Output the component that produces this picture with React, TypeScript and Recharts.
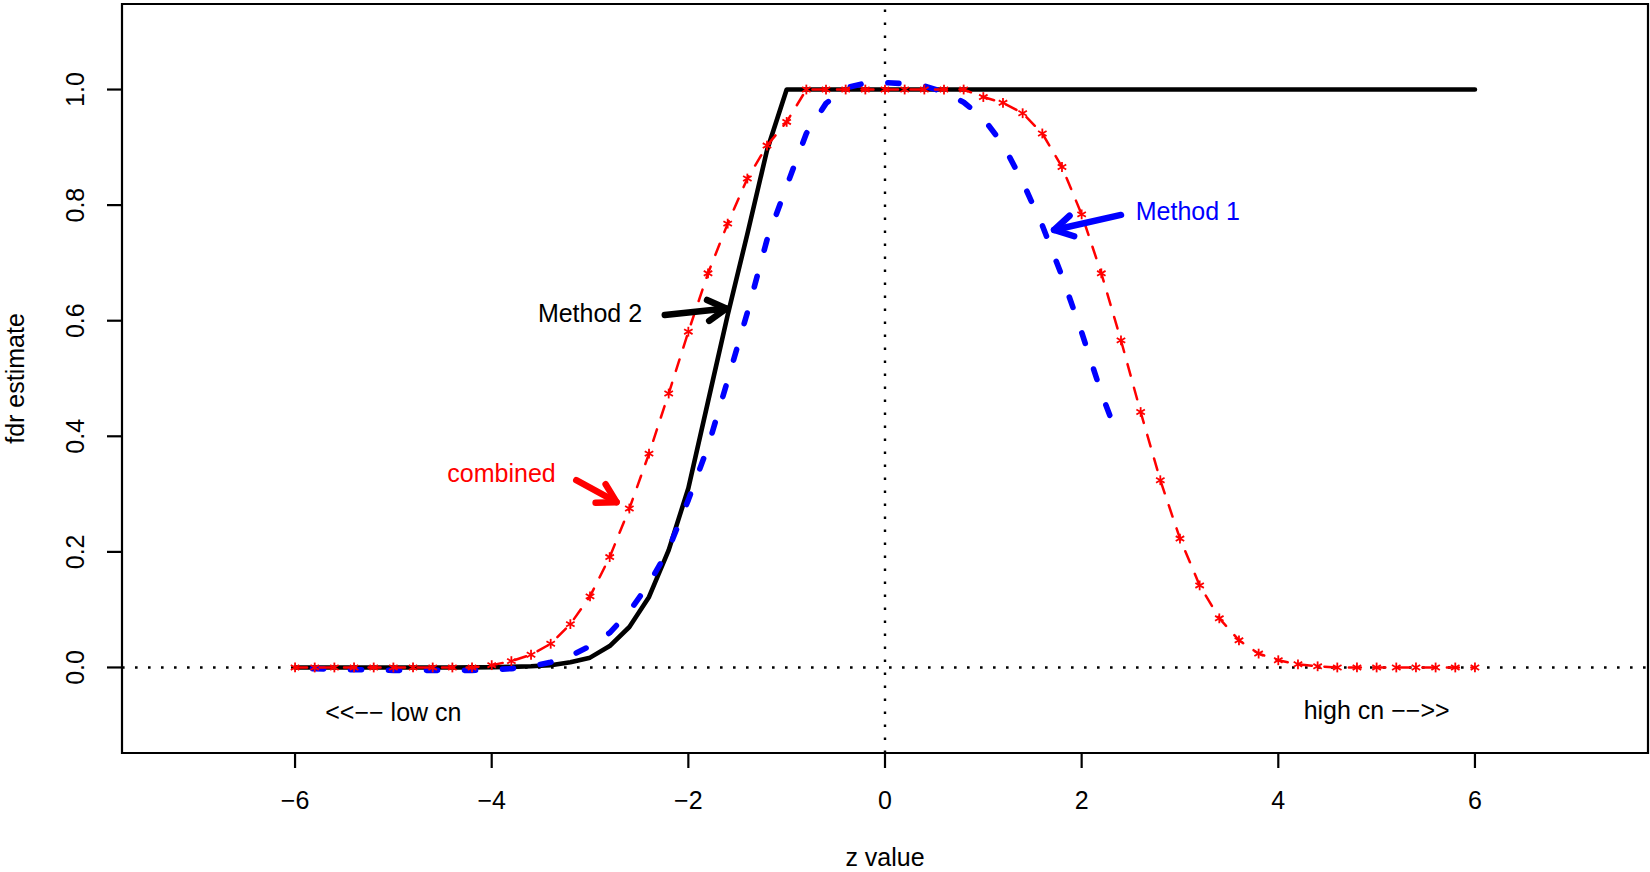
import React from 'react';
import {
  LineChart,
  Line,
  XAxis,
  YAxis,
  ReferenceLine,
  ReferenceArea,
  ReferenceDot,
  Label,
} from 'recharts';

// ---------- data ----------
const zGrid = [
  -6.0, -5.8, -5.6, -5.4, -5.2, -5.0, -4.8, -4.6, -4.4, -4.2,
  -4.0, -3.8, -3.6, -3.4, -3.2, -3.0, -2.8, -2.6, -2.4, -2.2,
  -2.0, -1.8, -1.6, -1.4, -1.2, -1.0, -0.8, -0.6, -0.4, -0.2,
  0.0, 0.2, 0.4, 0.6, 0.8, 1.0, 1.2, 1.4, 1.6, 1.8,
  2.0, 2.2, 2.4, 2.6, 2.8, 3.0, 3.2, 3.4, 3.6, 3.8,
  4.0, 4.2, 4.4, 4.6, 4.8, 5.0, 5.2, 5.4, 5.6, 5.8, 6.0,
];

const method2Fdr = [
  0, 0, 0, 0, 0, 0, 0, 0, 0, 0.0002,
  0.0005, 0.001, 0.002, 0.004, 0.009, 0.017, 0.037, 0.07, 0.122, 0.203,
  0.31, 0.46, 0.61, 0.75, 0.895, 1, 1, 1, 1, 1,
  1, 1, 1, 1, 1, 1, 1, 1, 1, 1,
  1, 1, 1, 1, 1, 1, 1, 1, 1, 1,
  1, 1, 1, 1, 1, 1, 1, 1, 1, 1, 1,
];

const combinedFdr = [
  0, 0, 0, 0, 0, 0, 0, 0, 0, 0,
  0.004, 0.011, 0.022, 0.041, 0.075, 0.123, 0.191, 0.275, 0.37, 0.474,
  0.581, 0.682, 0.768, 0.846, 0.903, 0.944, 1, 1, 1, 1,
  1, 1, 1, 1, 1, 0.987, 0.977, 0.959, 0.924, 0.866,
  0.784, 0.682, 0.566, 0.442, 0.324, 0.223, 0.142, 0.085, 0.047, 0.024,
  0.0125, 0.0055, 0.002, 0, 0, 0, 0, 0, 0, 0, 0,
];

const method1Z = [
  -6.0, -5.8, -5.6, -5.4, -5.2, -5.0, -4.8, -4.6, -4.4, -4.2,
  -4.0, -3.8, -3.6, -3.4, -3.2, -3.0, -2.8, -2.6, -2.4, -2.2,
  -2.0, -1.8, -1.6, -1.4, -1.2, -1.0, -0.8, -0.6, -0.4, -0.2,
  0.0, 0.2, 0.4, 0.6, 0.8, 1.0, 1.2, 1.4, 1.6, 1.8,
  2.0, 2.2, 2.3,
];
const method1Fdr = [
  -0.002, -0.002, -0.003, -0.004, -0.004, -0.005, -0.005, -0.005, -0.005, -0.005,
  -0.004, -0.002, 0.002, 0.009, 0.02, 0.037, 0.06, 0.097, 0.145, 0.205,
  0.29, 0.382, 0.497, 0.614, 0.74, 0.833, 0.924, 0.976, 1.003, 1.011,
  1.012, 1.01, 1.006, 0.996, 0.978, 0.95, 0.905, 0.84, 0.765, 0.677,
  0.58, 0.475, 0.43,
];

const xTicks = [-6, -4, -2, 0, 2, 4, 6];
const yTicks = [0, 0.2, 0.4, 0.6, 0.8, 1.0];

const noteTexts = ['Method 2', 'Method 1', 'combined', '<<\u2212\u2212 low cn', 'high cn \u2212\u2212>>'];
const noteX = [-3.0, 3.08, -3.9, -5.0, 5.0];
const noteY = [0.6125, 0.79, 0.336, -0.077, -0.074];
const noteColors = ['#000000', '#0000FF', '#FF0000', '#000000', '#000000'];

const arrowFromX = [-2.24, 2.4, -3.14];
const arrowFromY = [0.61, 0.783, 0.324];
const arrowToX = [-1.615, 1.72, -2.73];
const arrowToY = [0.621, 0.757, 0.286];
const arrowColors = ['#000000', '#0000FF', '#FF0000'];

// ---------- derived rows ----------
const method2Rows = zGrid.map((z, i) => ({ z, v: method2Fdr[i] }));
const combinedRows = zGrid.map((z, i) => ({ z, v: combinedFdr[i] }));
const method1Rows = method1Z.map((z, i) => ({ z, v: method1Fdr[i] }));

const FONT = '"Liberation Sans", Arial, Helvetica, sans-serif';
const FS = 25;

const minusFmt = (v: number) => (v < 0 ? '\u2212' + Math.abs(v) : String(v));

const XTick = (p: any) => (
  <text
    x={p.x}
    y={p.y + 40.7}
    textAnchor="middle"
    fontFamily={FONT}
    fontSize={FS}
    fill="#000"
  >
    {minusFmt(p.payload.value)}
  </text>
);

const YTick = (p: any) => {
  const bx = p.x - 22.5;
  return (
    <text
      x={bx}
      y={p.y}
      transform={`rotate(-90 ${bx} ${p.y})`}
      textAnchor="middle"
      fontFamily={FONT}
      fontSize={FS}
      fill="#000"
    >
      {Number(p.payload.value).toFixed(1)}
    </text>
  );
};

const XTitle = (p: any) => {
  const vb = p.viewBox || { x: 122, width: 1526 };
  return (
    <text
      x={vb.x + vb.width / 2}
      y={866}
      textAnchor="middle"
      fontFamily={FONT}
      fontSize={FS}
      fill="#000"
    >
      z value
    </text>
  );
};

const YTitle = (p: any) => {
  const vb = p.viewBox || { y: 4, height: 749 };
  const cy = vb.y + vb.height / 2;
  const bx = 23.6;
  return (
    <text
      x={bx}
      y={cy}
      transform={`rotate(-90 ${bx} ${cy})`}
      textAnchor="middle"
      fontFamily={FONT}
      fontSize={FS}
      fill="#000"
    >
      fdr estimate
    </text>
  );
};

const Star = (p: any) => {
  const { cx, cy } = p;
  if (cx == null || cy == null) return <g key={`star-${p.index}`} />;
  const r = 4.9;
  const dx = r * Math.cos(Math.PI / 6);
  const dy = r * Math.sin(Math.PI / 6);
  return (
    <g key={`star-${p.index}`} stroke="#FF0000" strokeWidth={1.8} strokeLinecap="butt">
      <line x1={cx} y1={cy - r} x2={cx} y2={cy + r} />
      <line x1={cx - dx} y1={cy - dy} x2={cx + dx} y2={cy + dy} />
      <line x1={cx - dx} y1={cy + dy} x2={cx + dx} y2={cy - dy} />
    </g>
  );
};

const makeArrow = (color: string) => (p: any) => {
  const { x1, y1, x2, y2 } = p;
  const ang = Math.atan2(y2 - y1, x2 - x1);
  const len = 21;
  const spread = Math.PI / 6;
  const ax1 = x2 - len * Math.cos(ang - spread);
  const ay1 = y2 - len * Math.sin(ang - spread);
  const ax2 = x2 - len * Math.cos(ang + spread);
  const ay2 = y2 - len * Math.sin(ang + spread);
  return (
    <g stroke={color} strokeWidth={6.5} strokeLinecap="round" strokeLinejoin="round" fill="none">
      <line x1={x1} y1={y1} x2={x2} y2={y2} />
      <polyline points={`${ax1},${ay1} ${x2},${y2} ${ax2},${ay2}`} />
    </g>
  );
};

const makeNote = (text: string, color: string) => (p: any) => (
  <text
    x={p.cx}
    y={p.cy}
    dy="0.35em"
    textAnchor="middle"
    fontFamily={FONT}
    fontSize={FS}
    fill={color}
  >
    {text}
  </text>
);

export default function App() {
  return (
    <div style={{ position: 'absolute', left: 0, top: 0, width: 1650, height: 872, background: '#fff' }}>
      <LineChart
        width={1650}
        height={872}
        margin={{ top: 4, right: 2, bottom: 0, left: 0 }}
        style={{ background: '#fff' }}
      >
        <XAxis
          type="number"
          dataKey="z"
          domain={[-7.76, 7.76]}
          allowDataOverflow
          ticks={xTicks}
          interval={0}
          height={119}
          tickSize={15}
          tickMargin={0}
          axisLine={false}
          tickLine={{ stroke: '#000', strokeWidth: 2.2 }}
          tick={<XTick />}
        >
          <Label content={XTitle} />
        </XAxis>
        <YAxis
          type="number"
          dataKey="v"
          domain={[-0.148, 1.148]}
          allowDataOverflow
          ticks={yTicks}
          interval={0}
          width={122}
          tickSize={15}
          tickMargin={0}
          axisLine={false}
          tickLine={{ stroke: '#000', strokeWidth: 2.2 }}
          tick={<YTick />}
        >
          <Label content={YTitle} />
        </YAxis>

        <ReferenceLine y={0} stroke="#000" strokeWidth={2.4} strokeDasharray="2.6 10.4" />
        <ReferenceLine x={0} stroke="#000" strokeWidth={2.4} strokeDasharray="2.6 10.4" />

        <Line
          data={method2Rows}
          dataKey="v"
          type="linear"
          stroke="#000000"
          strokeWidth={4.6}
          strokeLinejoin="round"
          strokeLinecap="round"
          dot={false}
          activeDot={false}
          isAnimationActive={false}
        />
        <Line
          data={method1Rows}
          dataKey="v"
          type="linear"
          stroke="#0000FF"
          strokeWidth={5.6}
          strokeDasharray="11 27"
          strokeDashoffset={20.5}
          strokeLinecap="round"
          strokeLinejoin="round"
          dot={false}
          activeDot={false}
          isAnimationActive={false}
        />
        <Line
          data={combinedRows}
          dataKey="v"
          type="linear"
          stroke="#FF0000"
          strokeWidth={2.5}
          strokeDasharray="12 12.5"
          strokeLinecap="round"
          dot={Star}
          activeDot={false}
          isAnimationActive={false}
        />

        {arrowColors.map((c, i) => (
          <ReferenceLine
            key={`arrow-${i}`}
            segment={[
              { x: arrowFromX[i], y: arrowFromY[i] },
              { x: arrowToX[i], y: arrowToY[i] },
            ]}
            stroke={c}
            shape={makeArrow(c)}
          />
        ))}

        {noteTexts.map((t, i) => (
          <ReferenceDot
            key={`note-${i}`}
            x={noteX[i]}
            y={noteY[i]}
            r={0}
            shape={makeNote(t, noteColors[i])}
          />
        ))}

        <ReferenceArea
          x1={-7.76}
          x2={7.76}
          y1={-0.148}
          y2={1.148}
          fill="none"
          fillOpacity={0}
          stroke="#000"
          strokeWidth={2.2}
          ifOverflow="visible"
        />
      </LineChart>
    </div>
  );
}
